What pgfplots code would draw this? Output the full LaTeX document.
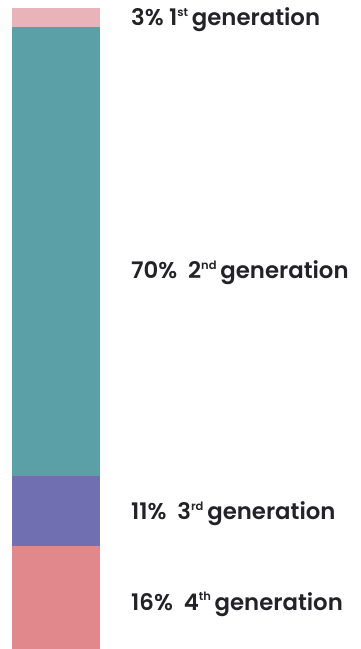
\documentclass[border=0pt]{standalone}
\usepackage{pgfplots}
\pgfplotsset{compat=1.18}
\usepackage{fontspec}
\setmainfont{Poppins}[UprightFont=* SemiBold]
\definecolor{cfirst}{RGB}{232,180,186}
\definecolor{csecond}{RGB}{92,160,167}
\definecolor{cthird}{RGB}{111,111,178}
\definecolor{cfourth}{RGB}{224,136,139}
\definecolor{ctext}{RGB}{34,34,40}
\newcommand{\sups}[1]{\raisebox{0.42em}{\fontsize{11.5}{12}\selectfont #1}}
\begin{document}
\begin{tikzpicture}[x=1pt,y=1pt]
\useasboundingbox (0,0) rectangle (360,649);
\begin{axis}[
  at={(12pt,0pt)}, anchor=south west,
  scale only axis, width=88pt, height=641pt,
  xmin=0, xmax=1, ymin=0, ymax=100,
  axis lines=none, clip=false,
  ybar stacked, bar width=88pt,
]
\addplot[fill=cfourth, draw=none] coordinates {(0.5,16)};
\addplot[fill=cthird, draw=none] coordinates {(0.5,11)};
\addplot[fill=csecond, draw=none] coordinates {(0.5,70)};
\addplot[fill=cfirst, draw=none] coordinates {(0.5,3)};
\coordinate (l4) at (rel axis cs:1.352,0.070);
\coordinate (l3) at (rel axis cs:1.352,0.211);
\coordinate (l2) at (rel axis cs:1.352,0.587);
\coordinate (l1) at (rel axis cs:1.352,0.981);
\end{axis}
\begin{scope}[every node/.style={font=\fontsize{22.8}{25}\selectfont, text=ctext, anchor=west, inner sep=0pt}]
\node at (l4) {16\%\ \ 4\sups{th}\,generation};
\node at (l3) {11\%\ \ 3\sups{rd}\,generation};
\node at (l2) {70\%\ \ 2\sups{nd}\,generation};
\node at (l1) {3\%\ 1\sups{st}\,generation};
\end{scope}
\end{tikzpicture}
\end{document}
